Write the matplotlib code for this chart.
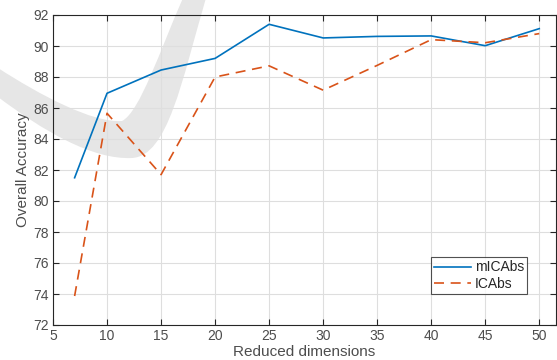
import matplotlib
matplotlib.use("Agg")
import matplotlib.pyplot as plt
from matplotlib.path import Path
from matplotlib.patches import PathPatch
from matplotlib.transforms import Affine2D

dims = [7, 10, 15, 20, 25, 30, 35, 40, 45, 50]
micabs = [81.5, 86.95, 88.45, 89.2, 91.4, 90.52, 90.62, 90.65, 90.02, 91.12]
icabs = [73.87, 85.66, 81.7, 88.0, 88.72, 87.15, 88.75, 90.41, 90.21, 90.8]
xticks = [5, 10, 15, 20, 25, 30, 35, 40, 45, 50]
yticks = [72, 74, 76, 78, 80, 82, 84, 86, 88, 90, 92]

plt.rcParams['font.family'] = ['Liberation Sans', 'DejaVu Sans']
txt = '#4d4d4d'
W, H = 557, 360
fig = plt.figure(figsize=(W / 100, H / 100), dpi=100)
ax = fig.add_axes([53/W, 35/H, (556-53)/W, (325-15)/H])

# decorative background watermark (swoosh), in pixel coords, y down
verts = [(206, -2), (182, 80), (168, 156), (132, 158),
         (92, 160), (42, 130), (-2, 97),
         (-2, 68),
         (40, 95), (92, 123), (122, 121),
         (140, 112), (160, 50), (183, -2),
         (206, -2)]
codes = [Path.MOVETO, Path.CURVE4, Path.CURVE4, Path.CURVE4,
         Path.CURVE4, Path.CURVE4, Path.CURVE4,
         Path.LINETO,
         Path.CURVE4, Path.CURVE4, Path.CURVE4,
         Path.CURVE4, Path.CURVE4, Path.CURVE4,
         Path.CLOSEPOLY]
tr = Affine2D().scale(1 / W, -1 / H).translate(0, 1) + fig.transFigure
ax.patch.set_alpha(0)
wm = PathPatch(Path(verts, codes), facecolor='#e6e6e6', edgecolor='none',
               transform=tr, clip_on=False)
fig.add_artist(wm)
wm.set_zorder(-1)

ax.plot(dims, micabs, color='#0072BD', lw=1.2, label='mICAbs')
ax.plot(dims, icabs, color='#D95319', lw=1.2, ls=(0, (6, 4)), label='ICAbs')

ax.set_xlim(5, 51.55)
ax.set_ylim(72, 92)
ax.set_xticks(xticks)
ax.set_yticks(yticks)
ax.grid(True, color='#dedede', lw=0.8)
ax.set_axisbelow(True)
ax.tick_params(direction='in', top=True, right=True, length=4, width=0.8,
               colors='#262626', labelcolor=txt, labelsize=10, pad=3)
for s in ax.spines.values():
    s.set_color('#262626')
    s.set_linewidth(0.8)
ax.set_xlabel('Reduced dimensions', fontsize=11, color=txt, labelpad=1)
ax.set_ylabel('Overall Accuracy', fontsize=11, color=txt, labelpad=2)

leg = ax.legend(loc='lower left', bbox_to_anchor=((431-53)/503, (325-294)/310),
                fontsize=10, frameon=True, fancybox=False, borderpad=0.25,
                handlelength=2.6, handletextpad=0.3, borderaxespad=0,
                labelspacing=0.15)
leg.get_frame().set_edgecolor('#262626')
leg.get_frame().set_linewidth(0.8)
for t in leg.get_texts():
    t.set_color('#262626')

fig.savefig('out.png', dpi=100)
